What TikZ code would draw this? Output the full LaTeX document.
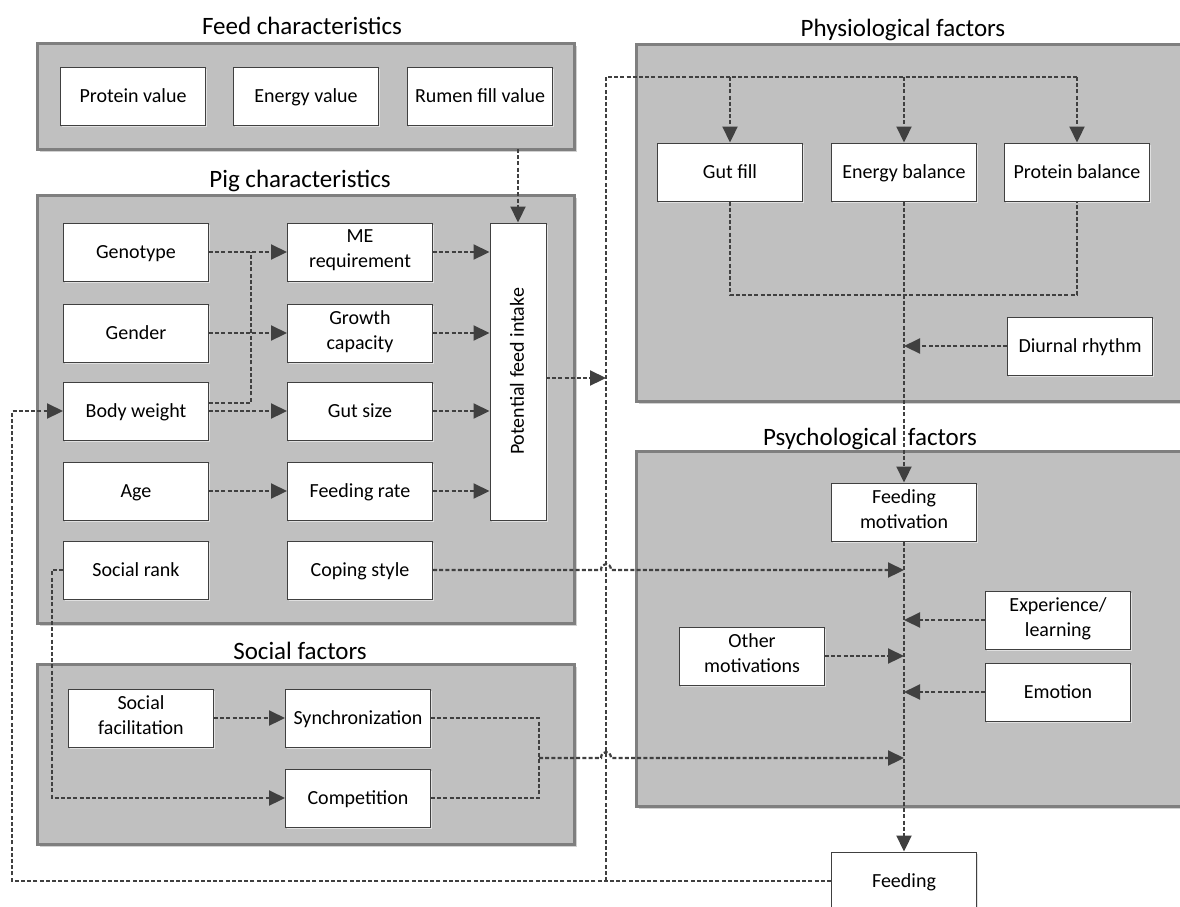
\documentclass[tikz,border=0pt]{standalone}
\usepackage{fontspec}
\setmainfont{Carlito}
\usetikzlibrary{arrows.meta,shadows,calc}
\definecolor{ln}{HTML}{404040}
\definecolor{pfill}{HTML}{C0C0C0}
\definecolor{pborder}{HTML}{7F7F7F}
\newcommand\bxstrut{\rule[-6pt]{0pt}{25pt}}
\begin{document}
\begin{tikzpicture}[x=1pt,y=-1pt,
 panel/.style={draw=pborder,fill=pfill,line width=3pt,inner sep=0pt,outer sep=0pt,
   drop shadow={shadow xshift=2.5pt,shadow yshift=-2.5pt,fill=black!18,opacity=1}},
 box/.style={draw=ln,fill=white,line width=1pt,minimum width=145pt,minimum height=58pt,
   inner sep=1pt,align=center,font=\fontsize{20}{25}\selectfont,text=black,
   execute at begin node=\bxstrut,execute at end node=\bxstrut,
   drop shadow={shadow xshift=1.5pt,shadow yshift=-1.5pt,fill=black!12,opacity=1}},
 ttl/.style={anchor=base,font=\fontsize{25}{29}\selectfont,inner sep=0pt},
 con/.style={draw=ln,line width=2.2pt,dash pattern=on 4pt off 2.2pt},
 arr/.style={con,-{Triangle[length=16pt,width=15pt,fill=ln]}}
]
\useasboundingbox (0,0) rectangle (1180,906);
\clip (0,0) rectangle (1180,906);
\fill[white] (0,0) rectangle (1180,906);

% panels
\node[panel,minimum width=537pt,minimum height=106pt] (feedp) at (306,96) {};
\node[panel,minimum width=537pt,minimum height=428pt] (pigp) at (306,409.5) {};
\node[panel,minimum width=537pt,minimum height=180pt] (socp) at (306,754.5) {};
\node[panel,minimum width=562pt,minimum height=357pt] (physp) at (917.5,223) {};
\node[panel,minimum width=562pt,minimum height=355pt] (psyp) at (917.5,629) {};

% titles
\node[ttl] (t1) at (302,34) {Feed characteristics};
\node[ttl] (t2) at (300,187) {Pig characteristics};
\node[ttl] (t3) at (300,659) {Social factors};
\node[ttl] (t4) at (903,36) {Physiological factors};
\node[ttl] (t5) at (870,445) {Psychological\hspace{5pt} factors};

% feed characteristics
\node[box] (prot) at (133,96) {Protein value};
\node[box] (ener) at (306,96) {Energy value};
\node[box] (rum) at (480,96) {Rumen fill value};

% pig characteristics
\node[box] (geno) at (136,252) {Genotype};
\node[box] (gend) at (136,333) {Gender};
\node[box] (bw) at (136,411) {Body weight};
\node[box] (age) at (136,491) {Age};
\node[box] (rank) at (136,570) {Social rank};
\node[box] (me) at (360,252) {ME\\requirement};
\node[box] (grow) at (360,333) {Growth\\capacity};
\node[box] (gut) at (360,411) {Gut size};
\node[box] (frate) at (360,491) {Feeding rate};
\node[box] (cope) at (360,570) {Coping style};
\node[box,minimum width=56pt,minimum height=297pt] (pfi) at (518,371.5) {};
\node[rotate=90,font=\fontsize{20}{25}\selectfont] (pfitxt) at (517,371.5) {Potential feed intake};

% social factors
\node[box] (sfac) at (141,718) {Social\\facilitation};
\node[box] (sync) at (358,718) {Synchronization};
\node[box] (comp) at (358,798) {Competition};

% physiological factors
\node[box] (gfill) at (730,172) {Gut fill};
\node[box] (ebal) at (904,172) {Energy balance};
\node[box] (pbal) at (1077,172) {Protein balance};
\node[box] (diur) at (1080,346) {Diurnal rhythm};

% psychological factors
\node[box] (fmot) at (904,512) {Feeding\\motivation};
\node[box] (exper) at (1058,620) {Experience/\\learning};
\node[box] (oth) at (752,656) {Other\\motivations};
\node[box] (emo) at (1058,692) {Emotion};
\node[box] (feed) at (904,881) {Feeding};

% helper coordinates
\coordinate (bustop) at (606,77);
\coordinate (busbot) at (606,881);
\coordinate (joinp) at (904,295);
\coordinate (leftx) at (12,881);
\coordinate (rankx) at (52,570);
\coordinate (sjoin) at (539,758);
\coordinate (bwx) at (251,403);
\coordinate (pfiout) at (546,378);
\coordinate (hop1) at (cope.east -| bustop);
\coordinate (hop2) at (sjoin -| bustop);

% pig characteristics connectors
\draw[arr] (geno) -- (me);
\draw[arr] (gend) -- (grow);
\draw[arr] (bw) -- (gut);
\draw[arr] (age) -- (frate);
\draw[con] (bw.east |- bwx) -- (bwx) -- (bwx |- me.west);
\draw[arr] (me.east) -- (me.east -| pfi.west);
\draw[arr] (grow.east) -- (grow.east -| pfi.west);
\draw[arr] (gut.east) -- (gut.east -| pfi.west);
\draw[arr] (frate.east) -- (frate.east -| pfi.west);
\draw[arr] (feedp.south -| pfi.north) -- (pfi.north);
\draw[arr] (pfiout) -- (pfiout -| bustop);

% feedback bus
\draw[arr] (feed.west) -- (leftx) -- (leftx |- bw.west) -- (bw.west);
\draw[con] (busbot) -- (bustop) -- (bustop -| pbal.north);
\draw[arr] (bustop -| gfill.north) -- (gfill.north);
\draw[arr] (bustop -| ebal.north) -- (ebal.north);
\draw[arr] (bustop -| pbal.north) -- (pbal.north);

% physiological
\draw[con] (gfill.south) |- (joinp) -| (pbal.south);
\draw[arr] (ebal.south) -- (fmot.north);
\draw[arr] (diur.west) -- (diur.west -| ebal.south);

% psychological
\draw[arr] (fmot.south) -- (feed.north);
\draw[arr] (exper.west) -- (exper.west -| fmot.south);
\draw[arr] (emo.west) -- (emo.west -| fmot.south);
\draw[arr] (oth.east) -- (oth.east -| fmot.south);
\draw[arr] (cope.east) -- ($(hop1)+(-5,0)$) .. controls ($(hop1)+(-5,-8)$) and ($(hop1)+(5,-8)$) .. ($(hop1)+(5,0)$) -- (cope.east -| fmot.south);

% social
\draw[arr] (sfac) -- (sync);
\draw[con] (sync.east) -| (sjoin);
\draw[con] (comp.east) -| (sjoin);
\draw[arr] (sjoin) -- ($(hop2)+(-5,0)$) .. controls ($(hop2)+(-5,-8)$) and ($(hop2)+(5,-8)$) .. ($(hop2)+(5,0)$) -- (sjoin -| fmot.south);
\draw[arr] (rank.west) -- (rankx) |- (comp.west);
\end{tikzpicture}
\end{document}
